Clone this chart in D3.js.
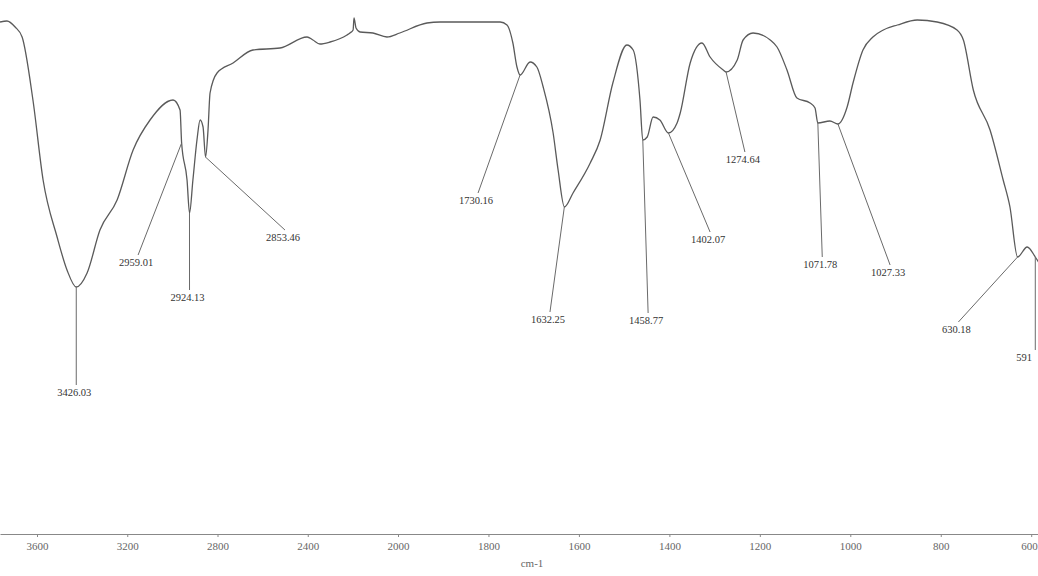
<!DOCTYPE html>
<html><head><meta charset="utf-8">
<script src="https://cdn.jsdelivr.net/npm/d3@7"></script>
<style>body{margin:0;background:#fff;overflow:hidden}svg{display:block}</style>
</head><body>
<svg id="chart" width="1038" height="576"></svg>
<script>
// wavenumbers (cm-1) of the traced spectrum
const wavenumbers = [3764,3733,3697,3666,3618,3573,3511,3467,3426,3378,3321,3245,3174,3099,2997,2966,2959,2935,2924,2909,2891,2877,2864,2853,2842,2833,2802,2731,2643,2523,2403,2377,2346,2301,2226,2213,2199,2195,2186,2168,2111,2049,1996,1936,1907,1774,1759,1746,1737,1730,1708,1693,1679,1657,1646,1632,1613,1575,1553,1525,1494,1480,1465,1458.77,1449,1436,1421,1402,1383,1376,1354,1328,1310,1281,1274.64,1250,1237,1215,1177,1162,1140,1118,1089,1078,1071.78,1045,1027.33,1007,994,972,950,927,896,852,808,764,750,728,691,662,647,630.18,609,591,584];
// transmittance (%T, arbitrary scale)
const transmittance = [101.6,101.8,100.6,98.6,86,70,58.6,52,48.6,51.4,60,66,76,82,86,84,77.4,70,63.4,70,78,82,80.6,74.6,80,87.4,91.4,93.4,96,96.4,98.6,98,97.2,97.6,99,99.4,100,102.4,100.4,99.6,99.4,98.6,99.4,101.4,101.6,101.6,101,97.4,92.6,91,93.6,92.6,88.6,79.4,72,64.6,67.4,73.4,78,89.4,97,96,86,78,78.6,82.6,82,79.4,81.4,83.4,93.4,97.4,94.6,92,91.6,94,98,99.4,98,96.6,92,86.4,85.4,84.4,81.4,81.8,81.2,84.6,89.4,96,98.6,100,101,102,101.6,100,98,88,80,70,64.6,54.6,56.6,54.6,53.6];
// peak annotations
const peakLabels = ["3426.03","2959.01","2924.13","2853.46","1730.16","1632.25","1458.77","1402.07","1274.64","1071.78","1027.33","630.18","591"];
const peakWn     = [3426.03,2959.01,2924.13,2853.46,1730.16,1632.25,1458.77,1402.07,1274.64,1071.78,1027.33,630.18,591];
const peakT      = [48.6,77.4,63.4,74.6,91,64.6,78,79.4,91.6,81.4,81.2,54.6,54.6];
const leaderWn   = [3426,3152,2924,2501,1823,1664,1447,1310,1233,1062,912,761,591];
const leaderT    = [29,55,48,60,67.4,43.6,43.4,59.6,75.6,54.6,53,41.6,36];
const tickValues = [3600,3200,2800,2400,2000,1800,1600,1400,1200,1000,800,600];
const axisTitle = "cm-1";

const svg = d3.select("#chart");
const x = d3.scaleLinear().domain([3764,2000,585]).range([0,398,1038]);
const y = d3.scaleLinear().domain([0,100]).range([530,30]);

const pts = wavenumbers.map((w,i)=>[w,transmittance[i]]);
svg.append("path").datum(pts)
  .attr("d", d3.line().x(d=>x(d[0])).y(d=>y(d[1])).curve(d3.curveMonotoneX))
  .attr("fill","none").attr("stroke","#5a5a5a").attr("stroke-width",1.3);

const ann = svg.append("g");
peakLabels.forEach((lab,i)=>{
  const x1=x(peakWn[i]), y1=y(peakT[i]), x2=x(leaderWn[i]), y2=y(leaderT[i]);
  ann.append("line").attr("x1",x1).attr("y1",y1).attr("x2",x2).attr("y2",y2)
    .attr("stroke","#6a6a6a").attr("stroke-width",1);
  ann.append("text").attr("x", lab==="591"? x2-19 : x2-2).attr("y",y2+11)
    .attr("text-anchor", lab==="591"?"start":"middle")
    .attr("font-family","Liberation Serif, serif").attr("font-size",10.5)
    .attr("fill","#333").text(lab);
});

const ax = svg.append("g").attr("transform","translate(0,534)")
  .call(d3.axisBottom(x).tickValues(tickValues).tickFormat(d3.format("d")).tickSize(3).tickSizeOuter(0));
ax.select(".domain").attr("stroke","#888").attr("stroke-width",1.2);
ax.selectAll(".tick line").attr("stroke","#888");
ax.selectAll(".tick text").attr("font-family","Liberation Serif, serif").attr("font-size",11)
  .attr("fill","#666").attr("dy","0.95em")
  .attr("text-anchor", d => d===600 ? "end" : "middle")
  .attr("dx", d => d===600 ? "6" : "0");
svg.append("text").attr("x",532).attr("y",567).attr("text-anchor","middle")
  .attr("font-family","Liberation Serif, serif").attr("font-size",11).attr("fill","#666").text(axisTitle);
</script>
</body></html>
